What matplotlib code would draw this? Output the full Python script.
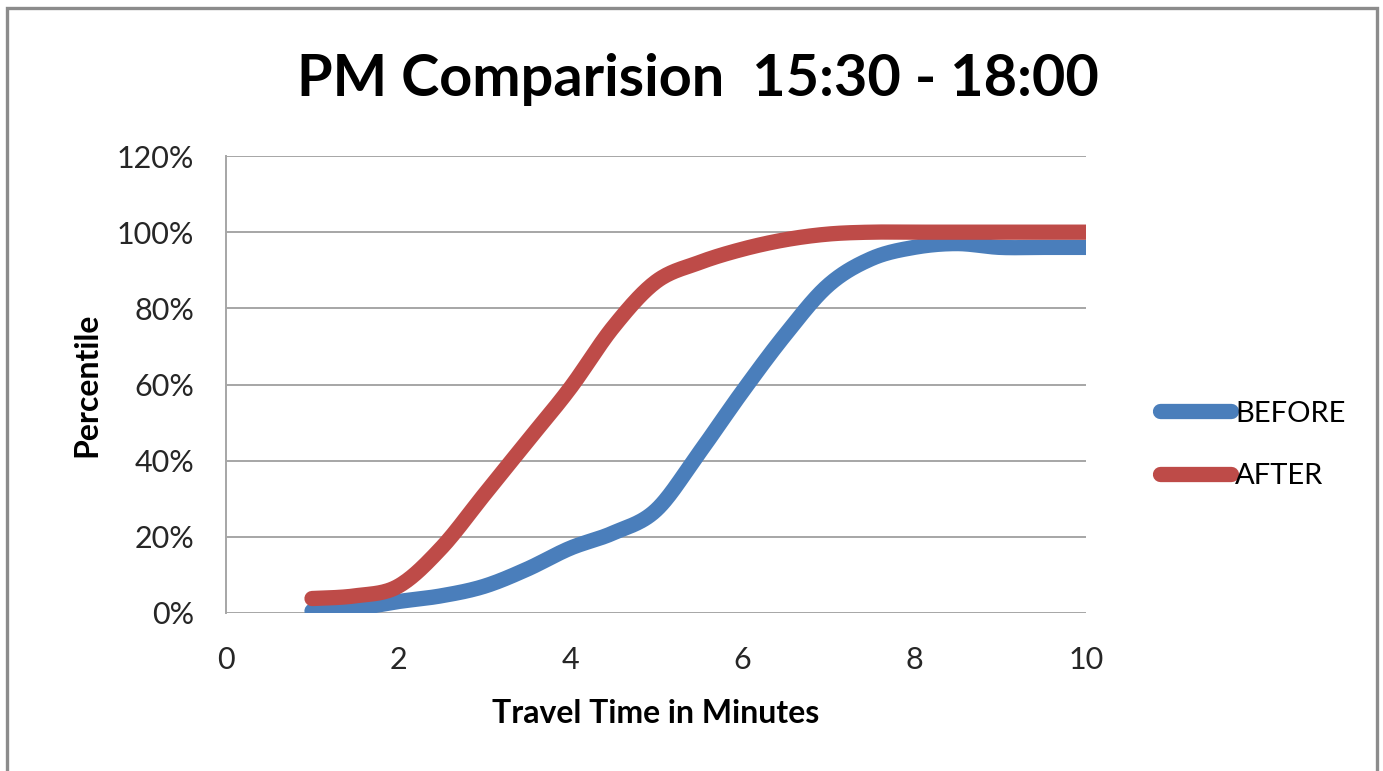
import numpy as np
import matplotlib.pyplot as plt
from matplotlib.patches import Rectangle

plt.rcParams['font.family'] = ['Lato', 'DejaVu Sans']

# travel time in minutes, sampled every half minute
minutes = [1, 1.5, 2, 2.5, 3, 3.5, 4, 4.5, 5, 5.5, 6, 6.5, 7, 7.5, 8, 8.5, 9, 9.5, 10]
before = [0.5, 1.2, 3, 4.5, 7, 11.5, 17, 21, 27, 42, 58, 73, 86, 93, 96, 97, 96, 96, 96]
after = [3.8, 4.5, 7, 17, 31, 45, 59, 75, 87, 92, 95.5, 98, 99.5, 100, 100, 100, 100, 100, 100]

x_ticks = [0, 2, 4, 6, 8, 10]
y_ticks = [0, 20, 40, 60, 80, 100, 120]


def smooth(xs, ys, steps=30):
    # Catmull-Rom style bezier smoothing, like a spreadsheet "smoothed line"
    xs = np.asarray(xs, float)
    ys = np.asarray(ys, float)
    px = np.concatenate([[xs[0]], xs, [xs[-1]]])
    py = np.concatenate([[ys[0]], ys, [ys[-1]]])
    out_x, out_y = [], []
    t = np.linspace(0, 1, steps)
    for i in range(1, len(px) - 2):
        p0 = np.array([px[i], py[i]])
        p3 = np.array([px[i + 1], py[i + 1]])
        c1 = p0 + (p3 - np.array([px[i - 1], py[i - 1]])) / 6
        c2 = p3 - (np.array([px[i + 2], py[i + 2]]) - p0) / 6
        b = (((1 - t) ** 3)[:, None] * p0 + (3 * (1 - t) ** 2 * t)[:, None] * c1
             + (3 * (1 - t) * t ** 2)[:, None] * c2 + (t ** 3)[:, None] * p3)
        out_x.extend(b[:, 0])
        out_y.extend(b[:, 1])
    return np.array(out_x), np.array(out_y)


fig = plt.figure(figsize=(13.83, 7.71), dpi=100)
ax = fig.add_axes([226 / 1383, 1 - 613 / 771, 860 / 1383, 457 / 771])

grid_col = '#a6a6a6'
bx, by = smooth(minutes, before)
rx, ry = smooth(minutes, after)
ax.plot(bx, by, color='#4A7EBB', lw=11, solid_capstyle='round', label='BEFORE')
ax.plot(rx, ry, color='#BE4B48', lw=11, solid_capstyle='round', label='AFTER')

ax.set_xlim(0, 10)
ax.set_ylim(0, 120)
ax.set_xticks(x_ticks)
ax.set_yticks(y_ticks)
ax.set_yticklabels([f'{v}%' for v in y_ticks])
ax.tick_params(length=0, labelsize=22, colors='#262626')
ax.tick_params(axis='y', pad=23)
ax.tick_params(axis='x', pad=24)
ax.grid(axis='y', color=grid_col, lw=1.4)
ax.set_axisbelow(True)
for s in ['top', 'right', 'bottom']:
    ax.spines[s].set_visible(False)
ax.spines['left'].set_color(grid_col)
ax.spines['left'].set_linewidth(1.4)

ax.set_xlabel('Travel Time in Minutes', fontsize=23, fontweight='bold', labelpad=18)
ax.set_ylabel('Percentile', fontsize=23, fontweight='bold', labelpad=11)

fig.text(0.505, 0.897, 'PM Comparision  15:30 - 18:00', fontsize=41.5,
         fontweight='bold', ha='center', va='center')

ax.legend(loc='center left', bbox_to_anchor=(1.055, 0.368), frameon=False,
          fontsize=21, handlelength=2.45, handletextpad=0.15, labelspacing=1.25)

fig.patches.append(Rectangle((7 / 1383, -0.05), 1370 / 1383, 1.05 - 8 / 771,
                             transform=fig.transFigure, fill=False,
                             edgecolor='#8c8c8c', lw=2.4))

fig.savefig('out.png', dpi=100)
